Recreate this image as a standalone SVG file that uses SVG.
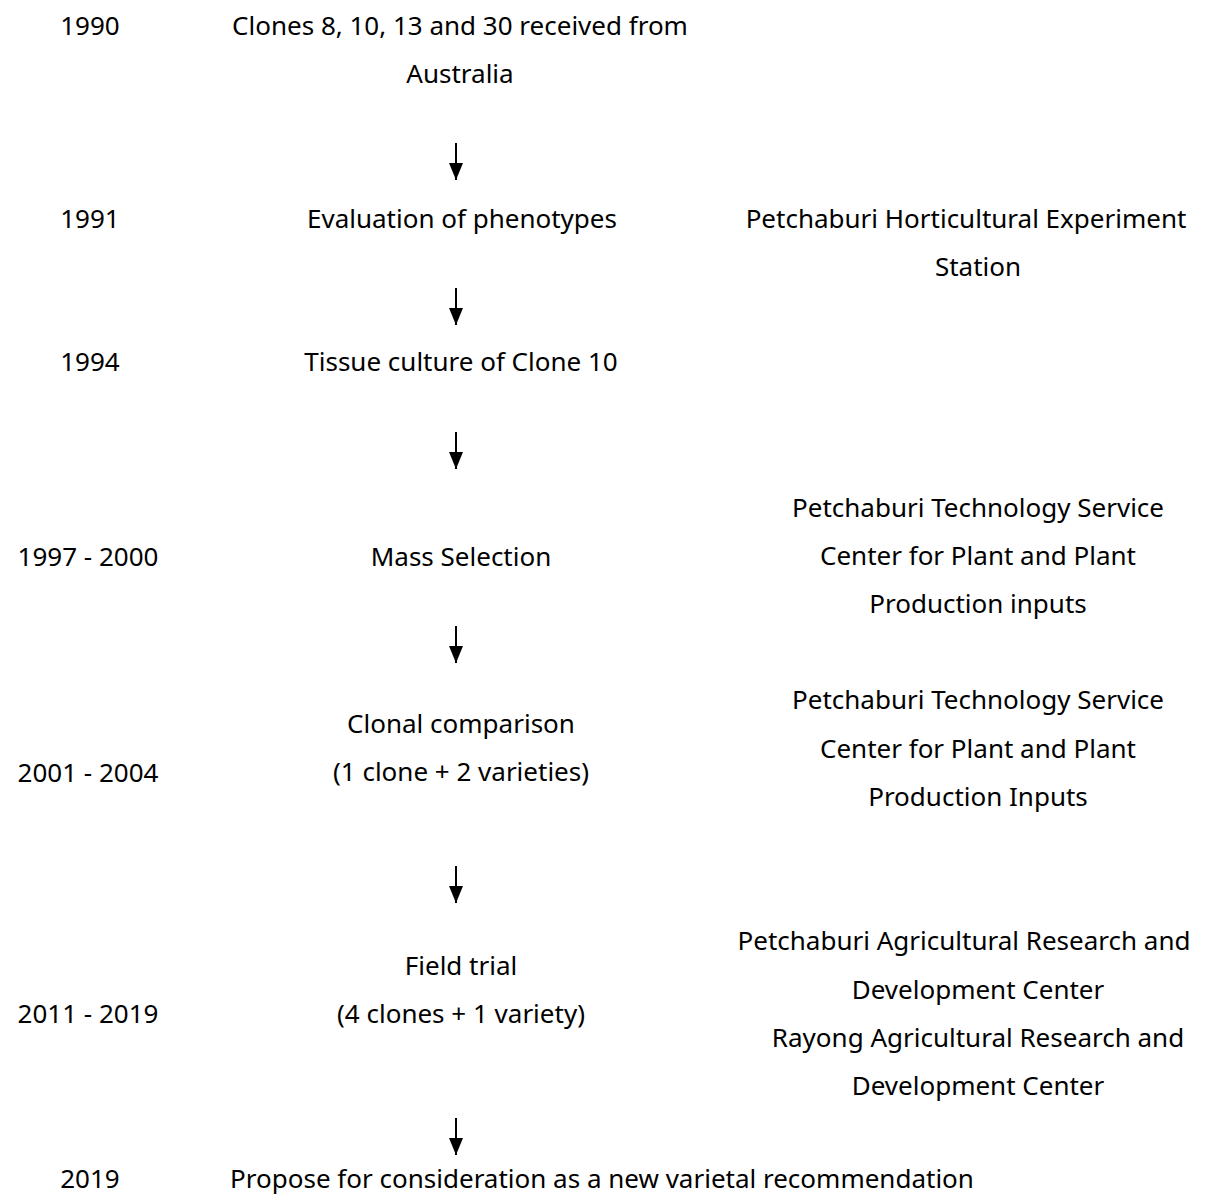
<svg xmlns="http://www.w3.org/2000/svg" width="1227" height="1200" viewBox="0 0 1227 1200">
<style>
text{font-family:"Noto Sans","Open Sans",sans-serif;font-size:26px;fill:#000;text-anchor:middle}
.c line{stroke:#000;stroke-width:2}
</style>
<defs>
<marker id="ah" viewBox="0 0 17 14" refX="17" refY="7" markerWidth="17" markerHeight="14" markerUnits="userSpaceOnUse" orient="auto">
<path d="M0,0 L17,7 L0,14 Z" fill="#000"/>
</marker>
</defs>
<rect width="1227" height="1200" fill="#fff"/>
<g id="n1990">
<text x="90" y="35">1990</text>
<text x="460" y="35">Clones 8, 10, 13 and 30 received from</text>
<text x="460" y="83">Australia</text>
</g>
<g id="n1991">
<text x="90" y="228">1991</text>
<text x="462" y="228">Evaluation of phenotypes</text>
<text x="966" y="228">Petchaburi Horticultural Experiment</text>
<text x="978" y="276">Station</text>
</g>
<g id="n1994">
<text x="90" y="371">1994</text>
<text x="461" y="371">Tissue culture of Clone 10</text>
</g>
<g id="n1997">
<text x="88" y="566">1997 - 2000</text>
<text x="461" y="566">Mass Selection</text>
<text x="978" y="517">Petchaburi Technology Service</text>
<text x="978" y="565">Center for Plant and Plant</text>
<text x="978" y="613">Production inputs</text>
</g>
<g id="n2001">
<text x="88" y="782">2001 - 2004</text>
<text x="461" y="733">Clonal comparison</text>
<text x="461" y="781">(1 clone + 2 varieties)</text>
<text x="978" y="709">Petchaburi Technology Service</text>
<text x="978" y="758">Center for Plant and Plant</text>
<text x="978" y="806">Production Inputs</text>
</g>
<g id="n2011">
<text x="88" y="1023">2011 - 2019</text>
<text x="461" y="975">Field trial</text>
<text x="461" y="1023">(4 clones + 1 variety)</text>
<text x="964" y="950">Petchaburi Agricultural Research and</text>
<text x="978" y="999">Development Center</text>
<text x="978" y="1047">Rayong Agricultural Research and</text>
<text x="978" y="1095">Development Center</text>
</g>
<g id="n2019">
<text x="90" y="1188">2019</text>
<text x="602" y="1188">Propose for consideration as a new varietal recommendation</text>
</g>
<g class="c" id="connectors">
<line x1="456" y1="143" x2="456" y2="180" marker-end="url(#ah)"/>
<line x1="456" y1="288" x2="456" y2="325" marker-end="url(#ah)"/>
<line x1="456" y1="432" x2="456" y2="469" marker-end="url(#ah)"/>
<line x1="456" y1="626" x2="456" y2="663" marker-end="url(#ah)"/>
<line x1="456" y1="866" x2="456" y2="903" marker-end="url(#ah)"/>
<line x1="456" y1="1118" x2="456" y2="1155" marker-end="url(#ah)"/>
</g>
</svg>
